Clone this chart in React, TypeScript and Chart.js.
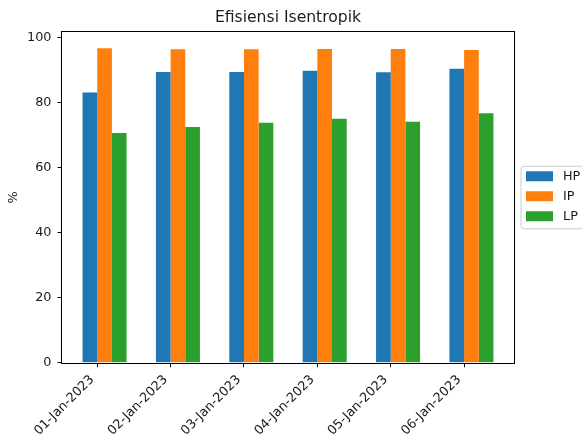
import React, { useEffect, useRef } from "react";
import { Chart, registerables } from "chart.js";

Chart.register(...registerables);

// Isentropic efficiency per turbine section, by date
const categories = [
  "01-Jan-2023",
  "02-Jan-2023",
  "03-Jan-2023",
  "04-Jan-2023",
  "05-Jan-2023",
  "06-Jan-2023",
];
const hpValues = [83.1, 89.4, 89.4, 89.8, 89.3, 90.4];
const ipValues = [96.7, 96.4, 96.4, 96.5, 96.5, 96.2];
const lpValues = [70.6, 72.5, 73.8, 75.0, 74.1, 76.7];
const seriesNames = ["HP", "IP", "LP"];
const seriesColors = ["#1f77b4", "#ff7f0e", "#2ca02c"];
const yTickValues = [0, 20, 40, 60, 80, 100];

const FONT = "'DejaVu Sans', sans-serif";
const TEXT = "#1a1a1a";
const TICK_SIZE = 12.8;
// bars sit from tick-0.2 to tick+0.4, so the group centre is shifted right of the tick
const GROUP_SHIFT = 0.1;

const framePlugin = {
  id: "frame",
  afterDatasetsDraw(chart: any) {
    const { ctx, chartArea: a } = chart;
    ctx.save();
    ctx.strokeStyle = "#000";
    ctx.lineWidth = 1;
    const l = Math.round(a.left) - 0.5;
    const t = Math.round(a.top) - 0.5;
    const r = Math.round(a.right) + 0.5;
    const b = Math.round(a.bottom) + 0.5;
    ctx.strokeRect(l, t, r - l, b - t);
    ctx.restore();
  },
};

const outsideLegendPlugin = {
  id: "outsideLegend",
  afterDraw(chart: any) {
    const { ctx, chartArea: a } = chart;
    const sets = chart.data.datasets;
    const rowH = 20;
    const boxH = sets.length * rowH + 2.5;
    const x0 = a.right + 7;
    const top = (a.top + a.bottom) / 2 - boxH / 2;
    ctx.save();
    ctx.beginPath();
    const w = 90;
    const rad = 3;
    ctx.moveTo(x0 + rad, top);
    ctx.lineTo(x0 + w, top);
    ctx.lineTo(x0 + w, top + boxH);
    ctx.lineTo(x0 + rad, top + boxH);
    ctx.arcTo(x0, top + boxH, x0, top + boxH - rad, rad);
    ctx.lineTo(x0, top + rad);
    ctx.arcTo(x0, top, x0 + rad, top, rad);
    ctx.closePath();
    ctx.fillStyle = "rgba(255,255,255,0.8)";
    ctx.fill();
    ctx.strokeStyle = "#cccccc";
    ctx.lineWidth = 1;
    ctx.stroke();
    ctx.font = `${TICK_SIZE}px ${FONT}`;
    ctx.textBaseline = "middle";
    ctx.textAlign = "left";
    sets.forEach((ds: any, i: number) => {
      const cy = top + 10 + i * rowH;
      ctx.fillStyle = ds.backgroundColor;
      ctx.fillRect(x0 + 5, cy - 5, 27, 10);
      ctx.fillStyle = TEXT;
      ctx.fillText(ds.label, x0 + 42, cy + 0.5);
    });
    ctx.restore();
  },
};

export default function App() {
  const canvasRef = useRef<HTMLCanvasElement | null>(null);

  useEffect(() => {
    document.body.style.margin = "0";
    document.body.style.overflow = "hidden";
    const canvas = canvasRef.current;
    if (!canvas) return;

    const series = [hpValues, ipValues, lpValues];
    const chart = new Chart(canvas, {
      type: "bar",
      data: {
        datasets: series.map((vals, s) => ({
          label: seriesNames[s],
          data: vals.map((v, i) => ({ x: i + GROUP_SHIFT, y: v })),
          backgroundColor: seriesColors[s],
          borderWidth: 0,
          categoryPercentage: 0.6,
          barPercentage: 1.0,
        })),
      },
      options: {
        responsive: false,
        animation: false,
        devicePixelRatio: 1,
        layout: { padding: { left: 0, right: 68, top: 0, bottom: 0 } },
        plugins: {
          legend: { display: false },
          tooltip: { enabled: false },
          title: {
            display: true,
            text: "Efisiensi Isentropik",
            fullSize: false,
            color: TEXT,
            font: { family: FONT, size: 15.6, weight: "normal" },
            padding: { top: 8.6, bottom: 5 },
          },
        },
        scales: {
          x: {
            type: "linear",
            offset: false,
            min: -0.48,
            max: 5.68,
            afterBuildTicks: (scale: any) => {
              scale.ticks = categories.map((_, i) => ({ value: i }));
            },
            afterFit: (scale: any) => {
              scale.height = 74.3;
            },
            ticks: {
              autoSkip: false,
              maxRotation: 45,
              minRotation: 45,
              padding: 5,
              labelOffset: -5,
              color: TEXT,
              font: { family: FONT, size: TICK_SIZE },
              callback: (_v: any, idx: number) => categories[idx],
            },
            grid: {
              offset: false,
              drawOnChartArea: false,
              drawTicks: true,
              tickLength: 4.5,
              color: "#000",
            },
            border: { display: false },
          },
          y: {
            type: "linear",
            min: 0,
            max: 101.6,
            afterBuildTicks: (scale: any) => {
              scale.ticks = yTickValues.map((v) => ({ value: v }));
            },
            afterFit: (scale: any) => {
              scale.width = 62;
            },
            ticks: {
              includeBounds: false,
              padding: 6,
              color: TEXT,
              font: { family: FONT, size: TICK_SIZE },
            },
            grid: {
              drawOnChartArea: false,
              drawTicks: true,
              tickLength: 4.5,
              color: "#000",
            },
            border: { display: false },
            title: {
              display: true,
              text: "%",
              color: TEXT,
              font: { family: FONT, size: TICK_SIZE },
              padding: { top: 6, bottom: 0 },
            },
          },
        },
      },
      plugins: [framePlugin, outsideLegendPlugin],
    } as any);

    return () => chart.destroy();
  }, []);

  return (
    <div style={{ width: 582, height: 437 }}>
      <canvas ref={canvasRef} width={582} height={437} style={{ display: "block" }} />
    </div>
  );
}
